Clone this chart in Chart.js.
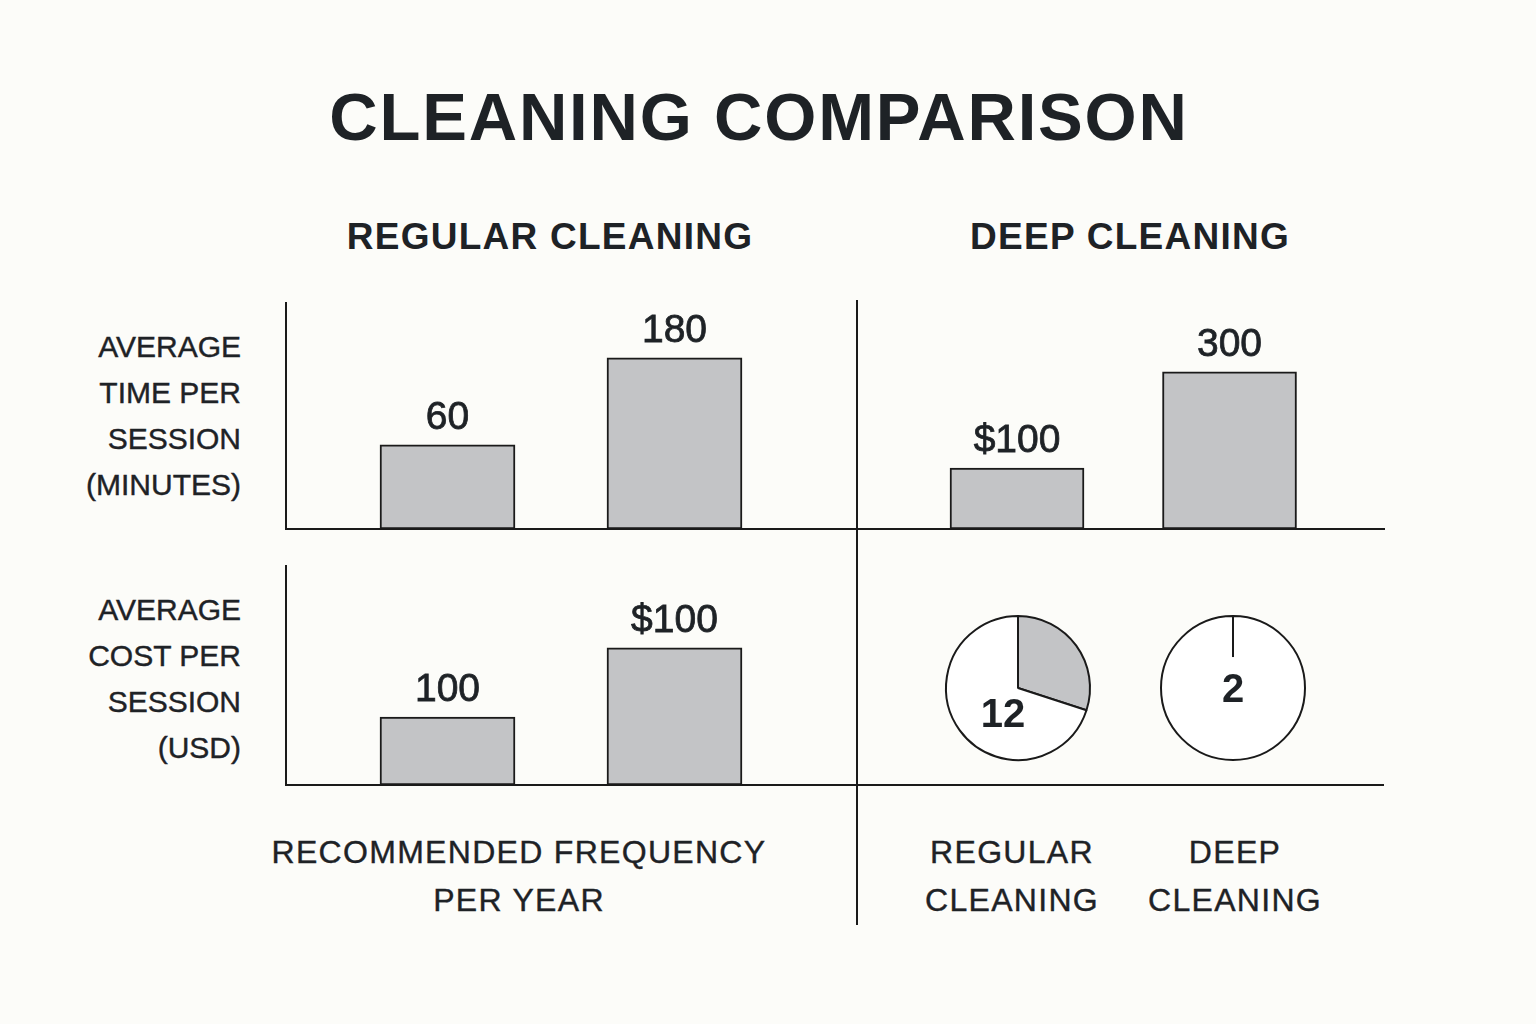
<!DOCTYPE html>
<html>
<head>
<meta charset="utf-8">
<title>Cleaning Comparison</title>
<script src="https://cdn.jsdelivr.net/npm/chart.js@4.4.1/dist/chart.umd.min.js"></script>
<style>
  html, body { margin: 0; padding: 0; background: #fcfcf9; }
  #page {
    position: relative; width: 1536px; height: 1024px; overflow: hidden;
    font-family: "Liberation Sans", Arial, sans-serif; color: #1e2226;
  }
  .txt { position: absolute; white-space: nowrap; }
  .title { left: 159px; width: 1200px; top: 83px; text-align: center; font-size: 67px; line-height: 67px; font-weight: bold; letter-spacing: 1.8px; }
  .head { width: 600px; top: 218px; text-align: center; font-size: 37px; line-height: 37px; font-weight: bold; letter-spacing: 1.25px; }
  .rowlab { left: 21px; width: 220px; text-align: right; font-size: 30px; line-height: 46px; -webkit-text-stroke: 0.4px #1e2226; }
  .foot { width: 600px; top: 829px; text-align: center; font-size: 32px; line-height: 47.5px; letter-spacing: 1.3px; -webkit-text-stroke: 0.4px #1e2226; }
  canvas { position: absolute; }
  .rule { position: absolute; background: #1a1a1a; }
</style>
</head>
<body>
<div id="page">
  <div class="txt title">CLEANING COMPARISON</div>
  <div class="txt head" style="left:250px">REGULAR CLEANING</div>
  <div class="txt head" style="left:830px">DEEP CLEANING</div>

  <div class="txt rowlab" style="top:324px">AVERAGE<br>TIME PER<br>SESSION<br>(MINUTES)</div>
  <div class="txt rowlab" style="top:587px">AVERAGE<br>COST PER<br>SESSION<br>(USD)</div>

  <div class="txt foot" style="left:219px">RECOMMENDED FREQUENCY<br>PER YEAR</div>
  <div class="txt foot" style="left:712px">REGULAR<br>CLEANING</div>
  <div class="txt foot" style="left:935px">DEEP<br>CLEANING</div>

  <canvas id="timeChart" width="611" height="279" style="left:266px; top:270px"></canvas>
  <canvas id="deepChart" width="567" height="279" style="left:837px; top:270px"></canvas>
  <canvas id="costChart" width="611" height="272" style="left:266px; top:533px"></canvas>
  <canvas id="regularPie" width="160" height="160" style="left:938px; top:608px"></canvas>
  <canvas id="deepPie" width="160" height="160" style="left:1153px; top:608px"></canvas>

  <div class="rule" style="left:856px; top:300px; width:2px; height:625px"></div>
  <div class="rule" style="left:857px; top:784px; width:527px; height:2px"></div>
</div>

<script>
// data
const cleaningTypes = ['Regular Cleaning', 'Deep Cleaning'];

// value labels as printed, bar heights as drawn (percent of panel height)
const timeText = ['60', '180'];
const timeBars = [37.2, 75.7];

const deepText = ['$100', '300'];
const deepBars = [27.0, 69.5];

const costText = ['100', '$100'];
const costBars = [31.0, 62.6];

// recommended frequency per year, pies
const freqText = ['12', '2'];
const regularShare = [30, 70];
const deepShare = [0, 100];

const ink = '#1e2226';
const lineInk = '#1a1a1a';
const barFill = '#c3c4c6';

const barValueLabels = {
    id: 'barValueLabels',
    afterDatasetsDraw(chart, args, opts) {
        const ctx = chart.ctx;
        const texts = opts.texts || [];
        chart.getDatasetMeta(0).data.forEach((bar, i) => {
            ctx.save();
            ctx.font = '39px "Liberation Sans", Arial, sans-serif';
            ctx.fillStyle = ink;
            ctx.strokeStyle = ink;
            ctx.lineWidth = 0.8;
            ctx.textAlign = 'center';
            ctx.textBaseline = 'alphabetic';
            ctx.fillText(texts[i], bar.x, bar.y - 16);
            ctx.strokeText(texts[i], bar.x, bar.y - 16);
            ctx.restore();
        });
    }
};

const pieLabel = {
    id: 'pieLabel',
    afterDatasetsDraw(chart, args, opts) {
        const ctx = chart.ctx;
        const arc = chart.getDatasetMeta(0).data[0];
        ctx.save();
        if (opts.badge) {
            // keep the start tick short of the centre label
            ctx.beginPath();
            ctx.arc(arc.x, arc.y, arc.outerRadius * opts.badge, 0, Math.PI * 2);
            ctx.fillStyle = '#ffffff';
            ctx.fill();
        }
        ctx.font = 'bold 40px "Liberation Sans", Arial, sans-serif';
        ctx.fillStyle = ink;
        ctx.textAlign = 'center';
        ctx.textBaseline = 'alphabetic';
        ctx.fillText(opts.text, arc.x + (opts.dx || 0), arc.y + (opts.dy || 0) + 14);
        ctx.restore();
    }
};

const hidden = { display: false, drawTicks: false };

function barPanel(id, texts, heights, xMin, xMax, thickness, showYAxis) {
    return new Chart(document.getElementById(id), {
        type: 'bar',
        data: {
            datasets: [{
                label: id,
                data: heights.map((h, i) => ({ x: i + 1, y: h })),
                backgroundColor: barFill,
                borderColor: lineInk,
                borderWidth: 2,
                borderSkipped: false,
                barThickness: thickness
            }]
        },
        options: {
            responsive: false,
            animation: false,
            layout: { padding: { left: 20, right: 20, top: 33, bottom: 20 } },
            plugins: {
                legend: { display: false },
                tooltip: { enabled: false },
                barValueLabels: { texts: texts }
            },
            scales: {
                x: {
                    type: 'linear', min: xMin, max: xMax, offset: false,
                    grid: hidden, ticks: { display: false },
                    border: { display: true, color: lineInk, width: 2 }
                },
                y: {
                    min: 0, max: 100,
                    grid: hidden, ticks: { display: false },
                    border: { display: showYAxis, color: lineInk, width: 2 }
                }
            }
        },
        plugins: [barValueLabels]
    });
}

function piePanel(id, shares, text, dx, dy, badge) {
    return new Chart(document.getElementById(id), {
        type: 'pie',
        data: {
            labels: ['Share', 'Rest'],
            datasets: [{
                data: shares,
                backgroundColor: [barFill, '#ffffff'],
                borderColor: lineInk,
                borderWidth: 2
            }]
        },
        options: {
            responsive: false,
            animation: false,
            layout: { padding: 7 },
            plugins: {
                legend: { display: false },
                tooltip: { enabled: false },
                pieLabel: { text: text, dx: dx, dy: dy, badge: badge }
            }
        },
        plugins: [pieLabel]
    });
}

barPanel('timeChart', timeText, timeBars, 0.2885, 2.804, 135, true);
barPanel('deepChart', deepText, deepBars, 0.247, 2.727, 134, false);
barPanel('costChart', costText, costBars, 0.2885, 2.804, 135, true);

piePanel('regularPie', regularShare, freqText[0], -15, 25, 0);
piePanel('deepPie', deepShare, freqText[1], 0, 0, 0.43);
</script>
</body>
</html>
